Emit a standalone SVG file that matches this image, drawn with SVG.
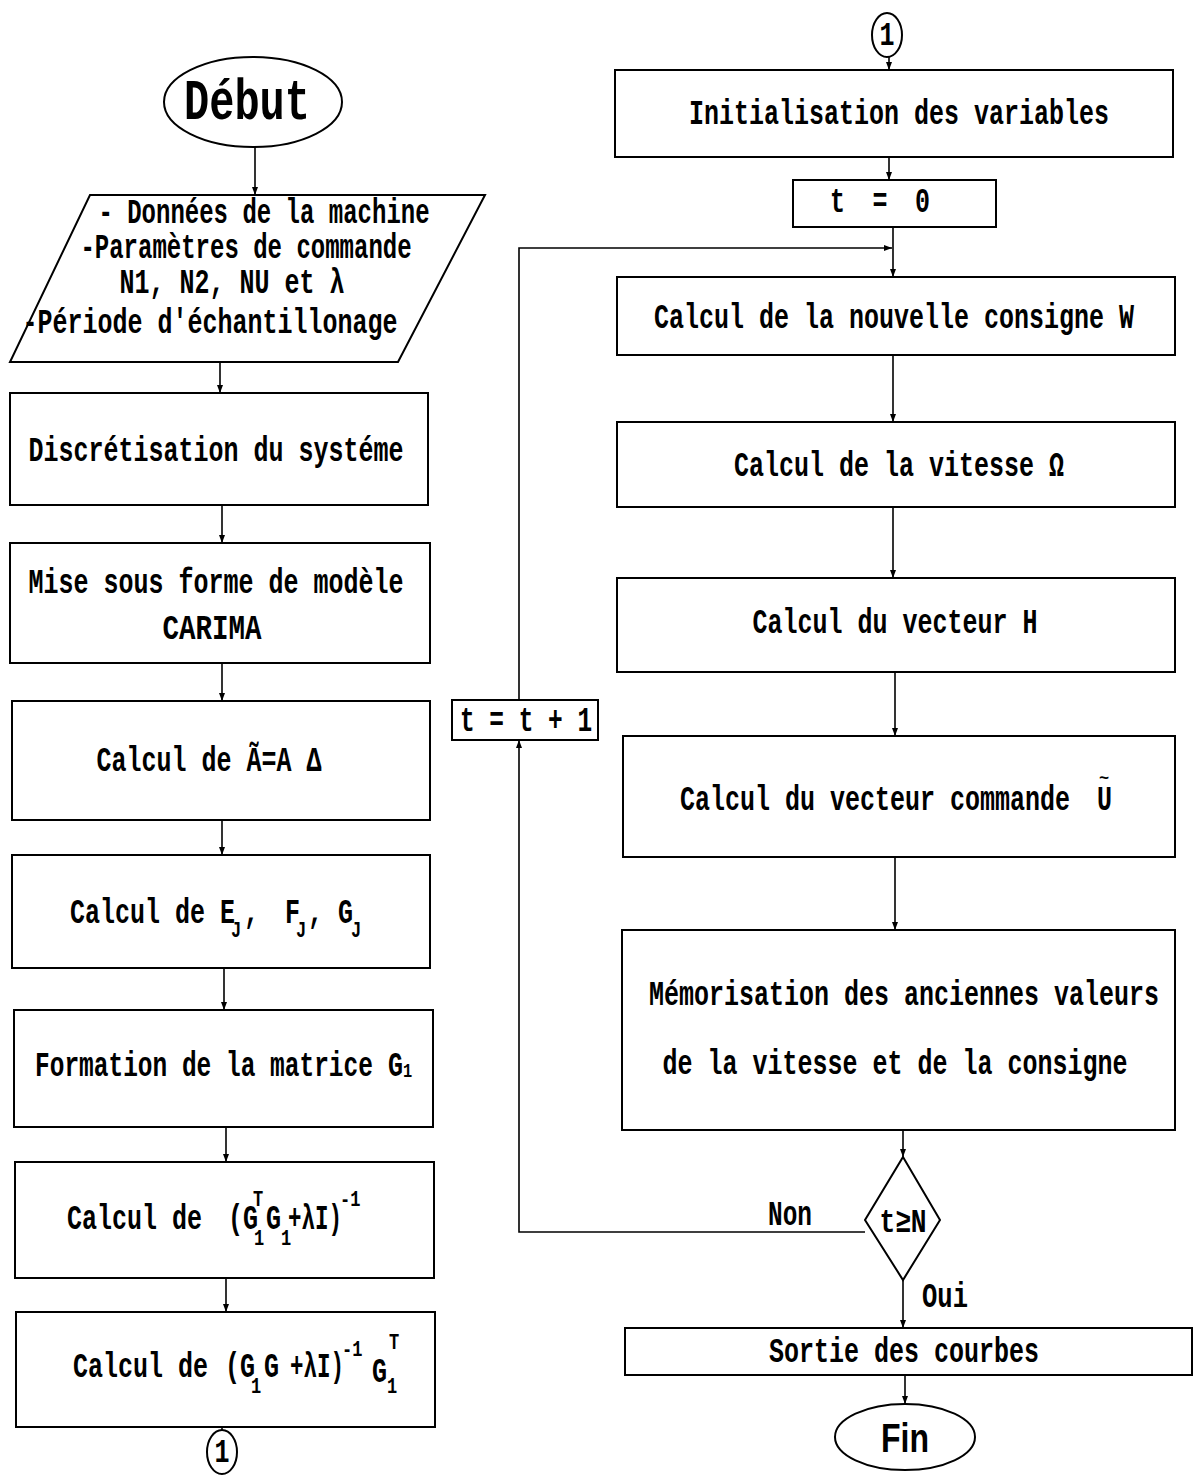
<svg xmlns="http://www.w3.org/2000/svg" width="1198" height="1482" viewBox="0 0 1198 1482">
<defs>
<marker id="ah" markerWidth="8" markerHeight="12" refX="8" refY="4" orient="auto" markerUnits="userSpaceOnUse" viewBox="0 0 8 8">
<path d="M0,1 L8,4 L0,7 Z" fill="#000"/>
</marker>
<style>
.box{fill:#fff;stroke:#000;stroke-width:2}
.ln{fill:none;stroke:#000;stroke-width:1.6}
.t{font-family:"Liberation Mono",monospace;font-size:25px;font-weight:bold;fill:#000}
.m{text-anchor:middle}
.s{font-family:"Liberation Mono",monospace;font-size:17px;font-weight:bold;fill:#000}
</style>
</defs>
<rect width="1198" height="1482" fill="#fff"/>

<g id="connectors">
<line class="ln" x1="255" y1="147" x2="255" y2="195" marker-end="url(#ah)"/>
<line class="ln" x1="220" y1="362" x2="220" y2="393" marker-end="url(#ah)"/>
<line class="ln" x1="222" y1="505" x2="222" y2="543" marker-end="url(#ah)"/>
<line class="ln" x1="222" y1="663" x2="222" y2="701" marker-end="url(#ah)"/>
<line class="ln" x1="222" y1="820" x2="222" y2="855" marker-end="url(#ah)"/>
<line class="ln" x1="224" y1="968" x2="224" y2="1010" marker-end="url(#ah)"/>
<line class="ln" x1="226" y1="1127" x2="226" y2="1162" marker-end="url(#ah)"/>
<line class="ln" x1="226" y1="1278" x2="226" y2="1312" marker-end="url(#ah)"/>
<line class="ln" x1="222" y1="1427" x2="222" y2="1430"/>
<line class="ln" x1="889" y1="57" x2="889" y2="70" marker-end="url(#ah)"/>
<line class="ln" x1="889" y1="157" x2="889" y2="180" marker-end="url(#ah)"/>
<line class="ln" x1="893" y1="227" x2="893" y2="277" marker-end="url(#ah)"/>
<polyline class="ln" points="519,700 519,248 892,248" marker-end="url(#ah)"/>
<line class="ln" x1="893" y1="355" x2="893" y2="422" marker-end="url(#ah)"/>
<line class="ln" x1="893" y1="507" x2="893" y2="578" marker-end="url(#ah)"/>
<line class="ln" x1="895" y1="672" x2="895" y2="736" marker-end="url(#ah)"/>
<line class="ln" x1="895" y1="857" x2="895" y2="930" marker-end="url(#ah)"/>
<line class="ln" x1="903" y1="1130" x2="903" y2="1157" marker-end="url(#ah)"/>
<polyline class="ln" points="865,1232 519,1232 519,740" marker-end="url(#ah)"/>
<line class="ln" x1="903" y1="1280" x2="903" y2="1328" marker-end="url(#ah)"/>
<line class="ln" x1="905" y1="1375" x2="905" y2="1404" marker-end="url(#ah)"/>
<text class="t" transform="translate(768,1225) scale(1,1.4)" textLength="44" lengthAdjust="spacingAndGlyphs">Non</text>
<text class="t" transform="translate(922,1307) scale(1,1.4)" textLength="46" lengthAdjust="spacingAndGlyphs">Oui</text>
</g>

<g id="debut">
<ellipse cx="253" cy="102" rx="89" ry="45" class="box"/>
<text class="t" transform="translate(247,119) scale(1,1.35)" text-anchor="middle" style="font-size:42px">Début</text>
</g>

<g id="donnees">
<polygon class="box" points="90,195 485,195 398,362 10,362"/>
<text class="t m" transform="translate(264,223) scale(0.96,1.4)">- Données de la machine</text>
<text class="t m" transform="translate(246,258) scale(0.96,1.4)">-Paramètres de commande</text>
<text class="t m" transform="translate(232,293) scale(1,1.4)">N1, N2, NU et λ</text>
<text class="t m" transform="translate(210,333) scale(1,1.4)">-Période d'échantillonage</text>
</g>

<g id="discretisation">
<rect class="box" x="10" y="393" width="418" height="112"/>
<text class="t m" transform="translate(216,461) scale(1,1.4)">Discrétisation du systéme</text>
</g>

<g id="carima">
<rect class="box" x="10" y="543" width="420" height="120"/>
<text class="t m" transform="translate(216,593) scale(1,1.4)">Mise sous forme de modèle</text>
<text class="t m" transform="translate(212,639) scale(1.1,1.4)">CARIMA</text>
</g>

<g id="calcul-a">
<rect class="box" x="12" y="701" width="418" height="119"/>
<text class="t m" transform="translate(209,771) scale(1,1.4)">Calcul de Ã=A Δ</text>
</g>

<g id="calcul-efg">
<rect class="box" x="12" y="855" width="418" height="113"/>
<text class="t" transform="translate(70,923) scale(1,1.4)">Calcul de E</text>
<text class="s" transform="translate(231,937) scale(1,1.3)">J</text>
<text class="t" transform="translate(244,923) scale(1,1.4)">,</text>
<text class="t" transform="translate(285,923) scale(1,1.4)">F</text>
<text class="s" transform="translate(296,937) scale(1,1.3)">J</text>
<text class="t" transform="translate(308,923) scale(1,1.4)">,</text>
<text class="t" transform="translate(338,923) scale(1,1.4)">G</text>
<text class="s" transform="translate(351,937) scale(1,1.3)">J</text>
</g>

<g id="formation-g1">
<rect class="box" x="14" y="1010" width="419" height="117"/>
<text class="t" transform="translate(35,1076) scale(0.98,1.4)">Formation de la matrice</text>
<text class="t" transform="translate(388,1076) scale(1,1.4)">G</text>
<text class="s" transform="translate(403,1077) scale(0.9,1.2)">1</text>
</g>

<g id="calcul-inv">
<rect class="box" x="15" y="1162" width="419" height="116"/>
<text class="t" transform="translate(67,1229) scale(1,1.4)">Calcul de</text>
<text class="t" transform="translate(228,1229) scale(1,1.4)">(G</text>
<text class="s" transform="translate(253,1206) scale(1,1.3)">T</text>
<text class="s" transform="translate(254,1245) scale(1,1.3)">1</text>
<text class="t" transform="translate(266,1229) scale(1,1.4)">G</text>
<text class="s" transform="translate(281,1245) scale(1,1.3)">1</text>
<text class="t" transform="translate(288,1229) scale(0.9,1.4)">+λI)</text>
<text class="s" transform="translate(340,1206) scale(1,1.3)">-1</text>
</g>

<g id="calcul-gain">
<rect class="box" x="16" y="1312" width="419" height="115"/>
<text class="t" transform="translate(73,1377) scale(1,1.4)">Calcul de</text>
<text class="t" transform="translate(225,1377) scale(1,1.4)">(G</text>
<text class="s" transform="translate(251,1393) scale(1,1.3)">1</text>
<text class="t" transform="translate(264,1377) scale(1,1.4)">G</text>
<text class="t" transform="translate(290,1377) scale(0.9,1.4)">+λI)</text>
<text class="s" transform="translate(342,1356) scale(1,1.3)">-1</text>
<text class="t" transform="translate(372,1382) scale(1,1.4)">G</text>
<text class="s" transform="translate(387,1393) scale(1,1.3)">1</text>
<text class="s" transform="translate(389,1349) scale(1,1.3)">T</text>
</g>

<g id="connector-1-bottom">
<ellipse class="box" cx="222" cy="1452" rx="15" ry="22"/>
<text class="t m" transform="translate(222,1462) scale(1,1.3)">1</text>
</g>

<g id="connector-1-top">
<ellipse class="box" cx="887" cy="35" rx="15" ry="22"/>
<text class="t m" transform="translate(887,45) scale(1,1.3)">1</text>
</g>

<g id="initialisation">
<rect class="box" x="615" y="70" width="558" height="87"/>
<text class="t m" transform="translate(899,124) scale(1,1.4)">Initialisation des variables</text>
</g>

<g id="t0">
<rect class="box" x="793" y="180" width="203" height="47"/>
<text class="t" transform="translate(830,212) scale(1,1.4)" textLength="100" lengthAdjust="spacing">t = 0</text>
</g>

<g id="consigne">
<rect class="box" x="617" y="277" width="558" height="78"/>
<text class="t m" transform="translate(894,328) scale(1,1.4)">Calcul de la nouvelle consigne W</text>
</g>

<g id="vitesse">
<rect class="box" x="617" y="422" width="558" height="85"/>
<text class="t m" transform="translate(899,476) scale(1,1.4)">Calcul de la vitesse Ω</text>
</g>

<g id="vecteur-h">
<rect class="box" x="617" y="578" width="558" height="94"/>
<text class="t m" transform="translate(895,633) scale(1,1.4)">Calcul du vecteur H</text>
</g>

<g id="vecteur-u">
<rect class="box" x="623" y="736" width="552" height="121"/>
<text class="t" transform="translate(680,810) scale(1,1.4)">Calcul du vecteur commande</text>
<text class="t" transform="translate(1097,810) scale(1,1.4)">U</text>
<text class="s" transform="translate(1099,783) scale(1,1)">~</text>
</g>

<g id="memorisation">
<rect class="box" x="622" y="930" width="553" height="200"/>
<text class="t m" transform="translate(904,1005) scale(1,1.4)">Mémorisation des anciennes valeurs</text>
<text class="t m" transform="translate(895,1074) scale(1,1.4)">de la vitesse et de la consigne</text>
</g>

<g id="test">
<polygon class="box" points="903,1157 940,1220 903,1280 865,1220"/>
<text class="t m" transform="translate(903,1232) scale(1.05,1.35)">t≥N</text>
</g>

<g id="increment">
<rect class="box" x="452" y="700" width="146" height="40"/>
<text class="t m" transform="translate(526,731) scale(0.98,1.4)">t = t + 1</text>
</g>

<g id="sortie">
<rect class="box" x="625" y="1328" width="567" height="47"/>
<text class="t m" transform="translate(904,1362) scale(1,1.4)">Sortie des courbes</text>
</g>

<g id="fin">
<ellipse class="box" cx="905" cy="1437" rx="70" ry="33"/>
<text transform="translate(905,1452) scale(0.8,1)" text-anchor="middle" style="font-family:'Liberation Sans',sans-serif;font-weight:bold;font-size:40px">Fin</text>
</g>
</svg>
